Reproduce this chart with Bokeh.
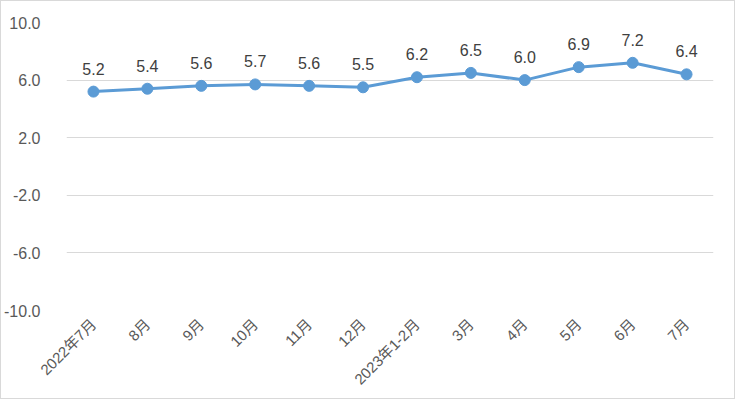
import math
from bokeh.plotting import figure
from bokeh.models import ColumnDataSource, FixedTicker, NumeralTickFormatter, FactorRange, Range1d
from bokeh.core.properties import value
from bokeh.embed import file_html
from bokeh.resources import INLINE

categories = ["2022年7月", "8月", "9月", "10月", "11月", "12月", "2023年1-2月", "3月", "4月", "5月", "6月", "7月"]
values = [5.2, 5.4, 5.6, 5.7, 5.6, 5.5, 6.2, 6.5, 6.0, 6.9, 7.2, 6.4]
y_ticks = [-10, -6, -2, 2, 6, 10]

FONT = "Liberation Sans, Noto Sans CJK SC"
LINE = "#5B9BD5"

src = ColumnDataSource(dict(x=categories, y=values, lbl=[f"{v:.1f}" for v in values]))

p = figure(x_range=FactorRange(factors=categories, range_padding=0), y_range=Range1d(-10, 10),
           width=730, height=397, output_backend="svg", toolbar_location=None,
           min_border_left=62, min_border_right=21, min_border_top=21, min_border_bottom=88)
p.frame_width = 647
p.frame_height = 288
p.outline_line_color = None
p.styles = {"border": "1px solid #d9d9d9", "box-sizing": "border-box"}

p.xgrid.grid_line_color = None
p.ygrid.grid_line_color = "#d9d9d9"
p.ygrid.grid_line_width = 1

p.yaxis.ticker = FixedTicker(ticks=y_ticks)
p.yaxis.formatter = NumeralTickFormatter(format="0.0")
p.yaxis.axis_line_color = None
p.yaxis.major_tick_line_color = None
p.yaxis.minor_tick_line_color = None
p.yaxis.major_label_text_font = FONT
p.yaxis.major_label_text_font_size = "16px"
p.yaxis.major_label_text_color = "#595959"
p.yaxis.major_label_standoff = 20

p.xaxis.axis_line_color = None
p.xaxis.major_tick_line_color = None
p.xaxis.major_label_orientation = math.pi / 4
p.xaxis.major_label_text_font = FONT
p.xaxis.major_label_text_font_size = "15px"
p.xaxis.major_label_text_color = "#595959"
p.xaxis.major_label_standoff = 5

p.line("x", "y", source=src, line_color=LINE, line_width=3)
p.scatter("x", "y", source=src, size=11, fill_color=LINE, line_color=LINE)
p.text("x", "y", text="lbl", source=src, text_align="center", text_baseline="bottom",
       y_offset=-17, text_font=value(FONT), text_font_size="16px", text_color="#404040")

open("out.html", "w").write(file_html(p, INLINE))
